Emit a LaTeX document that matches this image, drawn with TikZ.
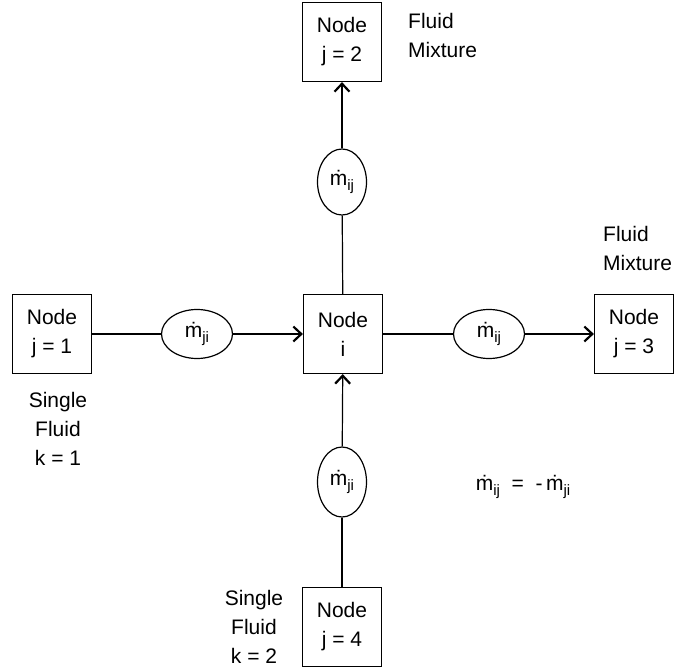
\documentclass[tikz,border=0pt]{standalone}
\usepackage{fontspec}
\setmainfont{Liberation Sans}
\usetikzlibrary{arrows.meta, shapes.geometric}
\newcommand{\mflow}[1]{ṁ\raisebox{-5pt}{\fontsize{15}{15}\selectfont #1}}

\begin{document}
\begin{tikzpicture}[x=1pt, y=-1pt,
    font=\fontsize{21}{29}\selectfont,
    every node/.style={align=center},
    nodebox/.style={draw, line width=1.2pt, minimum width=79pt, minimum height=79pt, inner sep=0pt},
    flowh/.style={draw, ellipse, line width=1.2pt, minimum width=71pt, minimum height=49pt, inner sep=0pt},
    flowv/.style={draw, ellipse, line width=1.2pt, minimum width=49pt, minimum height=66pt, inner sep=0pt},
    link/.style={line width=1.2pt},
    flowto/.style={line width=1.2pt, -{Straight Barb[length=8pt, width=15pt, line width=2.2pt]}},
    note/.style={inner sep=0pt}]
  \useasboundingbox (0,0) rectangle (680,669);
  % nodes of the network
  \node[nodebox] (i)  at (343,334) {Node\\i};
  \node[nodebox] (j1) at (52,334)  {Node\\j = 1};
  \node[nodebox] (j2) at (342,42)  {Node\\j = 2};
  \node[nodebox] (j3) at (634,334) {Node\\j = 3};
  \node[nodebox] (j4) at (342,627) {Node\\j = 4};
  % mass flow ellipses
  \node[flowh] (f1) at (197,334) {\mflow{ji}};
  \node[flowv] (f2) at (342,182) {\mflow{ij}};
  \node[flowh] (f3) at (489,334) {\mflow{ij}};
  \node[flowv, minimum height=70pt] (f4) at (342,482) {\mflow{ji}};
  % connectors
  \draw[link] (j1) -- (f1);
  \draw[flowto] (f1) -- (i);
  \draw[link] (i) -- (f2);
  \draw[flowto] (f2) -- (j2);
  \draw[link] (i) -- (f3);
  \draw[flowto] (f3) -- (j3);
  \draw[link] (j4) -- (f4);
  \draw[flowto] (f4) -- (i);
  % fluid labels
  \node[note, anchor=west, align=left] (mix2) at (408,35)  {Fluid\\Mixture};
  \node[note, anchor=west, align=left] (mix3) at (603,248) {Fluid\\Mixture};
  \node[note] (single1) at (58,429)  {Single\\Fluid\\k = 1};
  \node[note] (single2) at (254,627) {Single\\Fluid\\k = 2};
  % flow relation
  \node[note] (rel) at (523,487) {\mflow{ij}\ \ =\ \ -\,\mflow{ji}};
\end{tikzpicture}
\end{document}
